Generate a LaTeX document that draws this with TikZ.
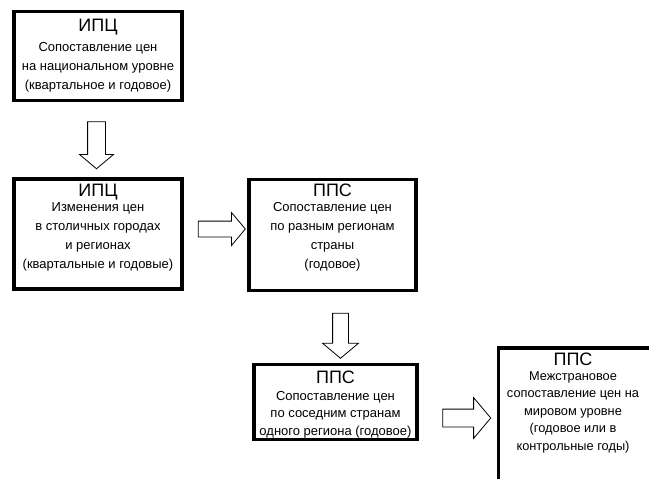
\documentclass[tikz,border=0pt]{standalone}
\usepackage{fontspec}
\setmainfont{Liberation Sans}
\usetikzlibrary{shapes.arrows}
\tikzset{
  box/.style={draw=black, line width=3.5pt, fill=white, inner sep=0pt},
  ttl/.style={anchor=base, inner sep=0pt, font=\fontsize{18}{20}\selectfont},
  body/.style={anchor=north, inner sep=0pt, align=center, font=\fontsize{13}{19}\selectfont},
  bodym/.style={anchor=north, inner sep=0pt, align=center, font=\fontsize{13}{17.5}\selectfont},
  bodys/.style={anchor=north, inner sep=0pt, align=center, font=\fontsize{12.8}{17.5}\selectfont},
  blk/.style={single arrow, draw=black, line width=0.8pt, fill=white, inner xsep=0pt,
    single arrow tip angle=100}
}
\begin{document}
\begin{tikzpicture}[x=1pt, y=-1pt]
\useasboundingbox (0,0) rectangle (649,479);
% boxes
\node[box, minimum width=168pt, minimum height=89pt] (b1) at (98,56) {};
\node[box, minimum width=168pt, minimum height=110pt] (b2) at (98,234) {};
\node[box, minimum width=167pt, minimum height=111pt] (b3) at (332.5,235) {};
\node[box, minimum width=163pt, minimum height=75pt] (b4) at (335.5,402) {};
\node[box, minimum width=155pt, minimum height=150pt] (b5) at (576,423) {};
% texts
\node[ttl] (t1) at (98,31) {ИПЦ};
\node[body] (d1) at (98,42) {Сопоставление цен\\на национальном уровне\\(квартальное и годовое)};
\node[ttl] (t2) at (98,196) {ИПЦ};
\node[body] (d2) at (98,202) {Изменения цен\\в столичных городах\\и регионах\\(квартальные и годовые)};
\node[ttl] (t3) at (332.5,196) {ППС};
\node[body] (d3) at (332.5,202) {Сопоставление цен\\по разным регионам\\страны\\(годовое)};
\node[ttl] (t4) at (335.5,383) {ППС};
\node[bodym] (d4) at (335.5,391) {Сопоставление цен\\по соседним странам\\одного региона (годовое)};
\node[ttl] (t5) at (573,365) {ППС};
\node[bodys] (d5) at (573,371) {Межстрановое\\сопоставление цен на\\мировом уровне\\(годовое или в\\контрольные годы)};
% block arrows
\node[blk, rotate=-90, minimum height=47pt, inner ysep=8.5pt, single arrow head extend=8pt] (a1) at (96.5,141.5) {};
\node[blk, minimum height=47pt, inner ysep=7.5pt, single arrow head extend=8.5pt] (a2) at (218.5,229) {};
\node[blk, rotate=-90, minimum height=45pt, inner ysep=7.5pt, single arrow head extend=10pt] (a3) at (340.5,332.5) {};
\node[blk, minimum height=48pt, inner ysep=8.5pt, single arrow head extend=11.5pt] (a4) at (463,418) {};
\end{tikzpicture}
\end{document}
